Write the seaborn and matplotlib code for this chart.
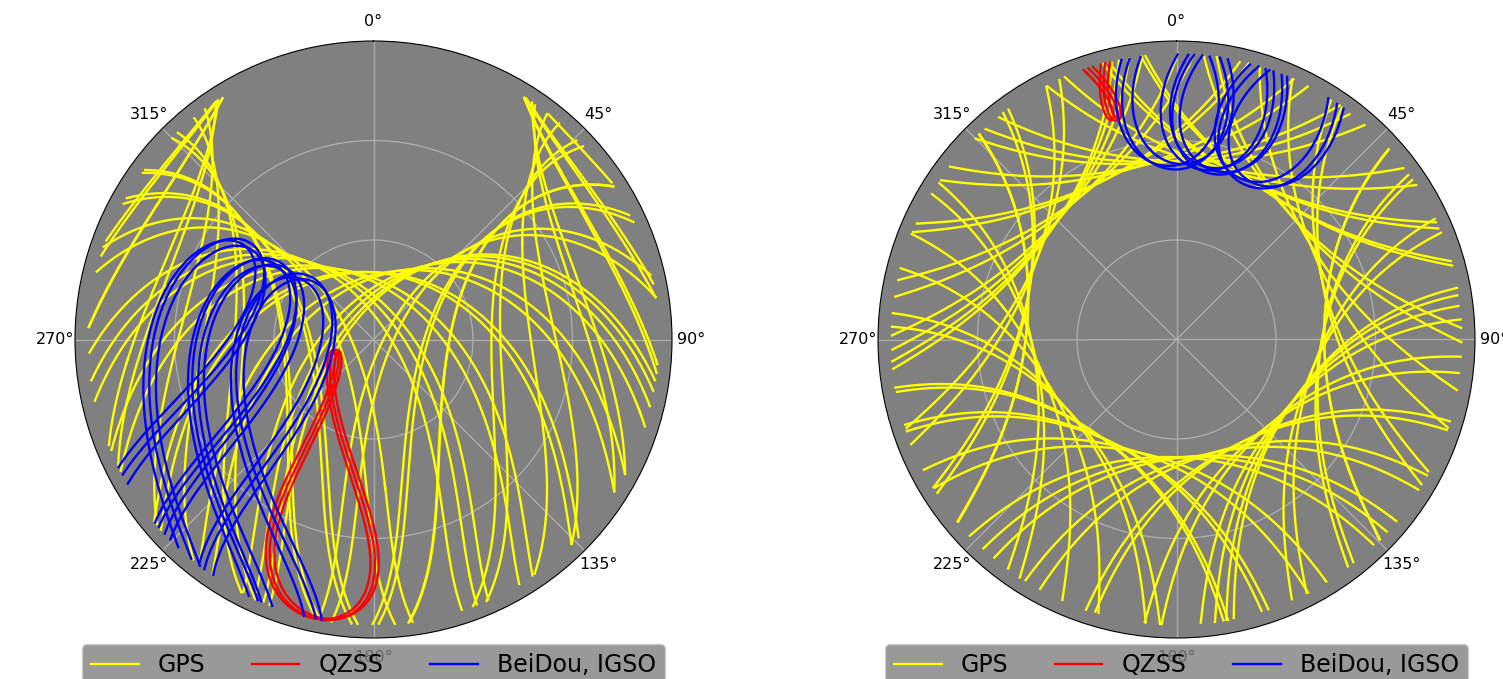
import numpy as np
import pandas as pd
import matplotlib
matplotlib.use("Agg")
import matplotlib.pyplot as plt
from matplotlib.lines import Line2D
import seaborn as sns

# ---- receiver sites (geodetic lat / lon, deg) ----
site_lat = [39.5, 82.494]
site_lon = [146.5, -62.341]

# ---- GPS: 31 satellites, RAAN and argument of latitude at start (deg) ----
gps_raan = [272.847]*5 + [332.847]*5 + [32.847]*5 + [92.847]*5 + [152.847]*5 + [212.847]*6
gps_u0 = [268.126, 161.786, 11.676, 41.806, 100.0,
          80.956, 173.336, 309.976, 204.376, 15.0,
          111.876, 11.796, 339.666, 241.556, 177.0,
          135.226, 265.446, 35.156, 167.356, 330.0,
          197.046, 302.596, 66.066, 333.686, 130.0,
          238.886, 345.226, 105.206, 135.346, 187.0, 45.0]
gps_inc = [55.0]*31

# ---- QZSS IGSO: centre longitude, inclination, eccentricity, mean anomaly ----
qzs_lon = [134.5, 135.5, 133.5]
qzs_inc = [36.2, 35.8, 36.0]
qzs_ecc = [0.075, 0.075, 0.075]
qzs_m0 = [0.0, 120.0, 240.0]

# ---- BeiDou IGSO: node longitude, inclination, argument of latitude ----
bds_lon = [120.0, 118.0, 116.0, 108.0, 106.0, 104.5, 103.0, 93.0, 91.0, 89.0]
bds_inc = [52.0, 53.0, 51.5, 52.5, 51.5, 53.0, 52.0, 51.5, 52.5, 51.0]
bds_u0 = [0.0, 120.0, 240.0, 30.0, 150.0, 270.0, 200.0, 60.0, 180.0, 300.0]

systems = ["GPS", "QZSS", "BeiDou, IGSO"]
colors = ["yellow", "red", "blue"]
az_ticks = [0, 45, 90, 135, 180, 225, 270, 315]

GPS_A = 26561.8      # km, half-sidereal-day orbit
IGSO_A = 42164.2     # km, geosynchronous
HOURS = 24
MASK = 4.0           # elevation cut-off, deg

GM = 398600.4418
WE = 7.2921151467e-5
RE_A = 6378.137
FLAT = 1 / 298.257223563


def kepler(M, e):
    E = M.copy()
    for _ in range(30):
        E = E - (E - e*np.sin(E) - M) / (1 - e*np.cos(E))
    return E


def sat_ecef(t, a, e, inc, raan, argp, m0):
    inc, raan, argp, m0 = np.radians([inc, raan, argp, m0])
    n = np.sqrt(GM / a**3)
    E = kepler(m0 + n*t, e)
    nu = 2*np.arctan2(np.sqrt(1+e)*np.sin(E/2), np.sqrt(1-e)*np.cos(E/2))
    r = a*(1 - e*np.cos(E))
    u = argp + nu
    x = r*(np.cos(raan)*np.cos(u) - np.sin(raan)*np.sin(u)*np.cos(inc))
    y = r*(np.sin(raan)*np.cos(u) + np.cos(raan)*np.sin(u)*np.cos(inc))
    z = r*np.sin(u)*np.sin(inc)
    th = WE*t
    return np.stack([np.cos(th)*x + np.sin(th)*y, -np.sin(th)*x + np.cos(th)*y, z])


def az_el(p, lat, lon):
    la, lo = np.radians(lat), np.radians(lon)
    e2 = FLAT*(2 - FLAT)
    N = RE_A/np.sqrt(1 - e2*np.sin(la)**2)
    st = np.array([N*np.cos(la)*np.cos(lo), N*np.cos(la)*np.sin(lo), N*(1 - e2)*np.sin(la)])
    d = p - st[:, None]
    e = -np.sin(lo)*d[0] + np.cos(lo)*d[1]
    n = -np.sin(la)*np.cos(lo)*d[0] - np.sin(la)*np.sin(lo)*d[1] + np.cos(la)*d[2]
    u = np.cos(la)*np.cos(lo)*d[0] + np.cos(la)*np.sin(lo)*d[1] + np.sin(la)*d[2]
    return np.arctan2(e, n), np.degrees(np.arcsin(u/np.linalg.norm(d, axis=0)))


def orbit_list():
    sats = []
    for k in range(len(gps_u0)):
        sats.append(("GPS", GPS_A, 0.0, gps_inc[k], gps_raan[k], 0.0, gps_u0[k]))
    for k in range(len(qzs_lon)):
        # perigee over the southern apex, ground track centred on qzs_lon
        sats.append(("QZSS", IGSO_A, qzs_ecc[k], qzs_inc[k],
                     qzs_lon[k] + 90.0 - qzs_m0[k], 270.0, qzs_m0[k]))
    for k in range(len(bds_lon)):
        sats.append(("BeiDou, IGSO", IGSO_A, 0.0, bds_inc[k],
                     bds_lon[k] - bds_u0[k], 0.0, bds_u0[k]))
    return sats


def sky_tracks(lat, lon):
    t = np.arange(0, HOURS*3600, 60.0)
    parts = []
    seg = 0
    for s in orbit_list():
        az, el = az_el(sat_ecef(t, *s[1:]), lat, lon)
        vis = (el >= MASK).astype(int)
        edges = np.flatnonzero(np.diff(np.r_[0, vis, 0]))
        for a0, a1 in zip(edges[::2], edges[1::2]):
            parts.append(pd.DataFrame({"theta": np.unwrap(az[a0:a1]),
                                       "zen": 90.0 - el[a0:a1],
                                       "system": s[0], "seg": seg}))
            seg += 1
    return pd.concat(parts, ignore_index=True)


fig = plt.figure(figsize=(15.03, 6.79), dpi=100)
W, H = 1503.0, 679.0
ax_left_px = [75, 878]
size_px = 597
bottom_px = 41 + size_px

for i in range(2):
    ax = fig.add_axes([ax_left_px[i]/W, (H - bottom_px)/H, size_px/W, size_px/H],
                      projection="polar")
    ax.set_theta_zero_location("N")
    ax.set_theta_direction(-1)
    ax.set_facecolor("gray")
    df = sky_tracks(site_lat[i], site_lon[i])
    for name, col in zip(systems, colors):
        sns.lineplot(data=df[df["system"] == name], x="theta", y="zen", units="seg",
                     estimator=None, sort=False, color=col, linewidth=1.7,
                     ax=ax, legend=False)
    ax.set_ylim(0, 90)
    ax.set_yticks([30, 60])
    ax.set_yticklabels([])
    ax.set_thetagrids(az_ticks, [f"{d}°" for d in az_ticks], fontsize=11.5)
    ax.grid(True, color="#b0b0b0", linewidth=0.9)
    ax.set_xlabel("")
    ax.set_ylabel("")
    handles = [Line2D([], [], color=c, linewidth=1.7) for c in colors]
    ax.legend(handles, systems, loc="upper center", bbox_to_anchor=(0.5, -0.01),
              borderaxespad=0, ncol=3, fontsize=17, facecolor="gray", framealpha=0.8)

fig.savefig("out.png", dpi=100)
